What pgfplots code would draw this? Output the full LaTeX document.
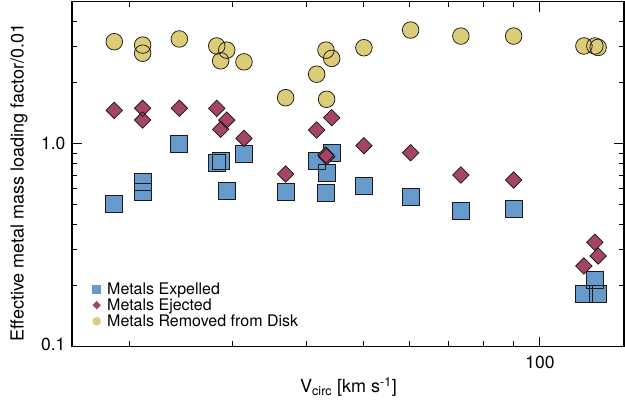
\documentclass[border=0pt]{standalone}
\usepackage{fontspec}
\setmainfont{TeX Gyre Heros}
\usepackage{pgfplots}
\usepackage{pgfplotstable}
\pgfplotsset{compat=1.18}
\definecolor{cblue}{HTML}{6699CC}
\definecolor{cred}{HTML}{A44468}
\definecolor{cyel}{HTML}{DDCC77}
\definecolor{edge}{HTML}{1A1A1A}
\pgfplotstableread{
x      expelled ejected removed
18.88  0.508    1.46    3.18
21.10  0.645    1.494   3.06
21.10  0.580    1.308   2.79
24.36  0.997    1.494   3.28
28.20  0.800    1.494   3.03
28.64  0.822    1.177   2.56
29.33  0.587    1.308   2.89
31.38  0.887    1.063   2.53
36.94  0.576    0.709   1.685
41.71  0.825    1.168   2.20
43.26  0.570    0.880   2.89
43.37  0.715    0.863   1.655
44.24  0.903    1.343   2.63
50.19  0.619    0.978   2.97
60.27  0.545    0.903   3.63
73.38  0.468    0.701   3.39
90.22  0.477    0.663   3.39
118.8  0.183    0.2497  3.03
124.0  0.213    0.327   3.03
125.6  0.183    0.280   2.98
}\datatable
\begin{document}
\begin{tikzpicture}
\path[use as bounding box] (0,0) rectangle (625pt,404pt);
\begin{axis}[
  at={(72pt,57.3pt)}, anchor=south west,
  scale only axis, width=552pt, height=344.9pt,
  xmode=log, ymode=log,
  xmin=16, xmax=139, ymin=0.1, ymax=5,
  xtick={100}, xticklabels={100},
  ytick={0.1,1}, yticklabels={\raisebox{4pt}{0.1},1.0},
  minor xtick={20,30,40,50,60,70,80,90},
  minor ytick={0.2,0.3,0.4,0.5,0.6,0.7,0.8,0.9,2,3,4},
  major tick length=10pt, minor tick length=5.5pt,
  tick style={black, line width=0.9pt},
  axis line style={line width=1.3pt},
  /pgf/number format/assume math mode=true,
  ticklabel style={font=\fontsize{17.5}{20}\selectfont},
  xticklabel style={yshift=-6pt},
  yticklabel style={xshift=-3pt},
  xlabel={V\textsubscript{circ} [km s\textsuperscript{-1}]},
  ylabel={Effective metal mass loading factor/0.01},
  label style={font=\fontsize{18}{21}\selectfont},
  xlabel style={at={(axis description cs:0.501,-0.134)}, anchor=base},
  ylabel style={at={(axis description cs:-0.096,0.476)}, anchor=center},
  legend image code/.code={\path[#1] plot coordinates {(0pt,0pt)};},
  legend style={at={(axis description cs:0.0362,0.1905)}, anchor=north west,
    draw=none, fill=none, inner sep=0pt, column sep=3pt, row sep=0pt,
    font=\fontsize{16}{19}\selectfont,
    nodes={text height=13pt, text depth=3pt, inner ysep=0pt, inner xsep=3pt}},
  legend cell align=left,
]
% Expelled (squares)
\addplot[forget plot, only marks, mark=square*, mark size=8.5pt,
  mark options={fill=cblue, draw opacity=0}] table[x=x, y=expelled] {\datatable};
\addplot[forget plot, only marks, mark=square, mark size=8.5pt,
  mark options={draw=edge, line width=0.75pt}] table[x=x, y=expelled] {\datatable};
% Ejected (diamonds)
\addplot[forget plot, only marks, mark=square*, mark size=5.8pt,
  mark options={fill=cred, draw opacity=0, rotate=45}] table[x=x, y=ejected] {\datatable};
\addplot[forget plot, only marks, mark=square, mark size=5.8pt,
  mark options={draw=edge, line width=0.75pt, rotate=45}] table[x=x, y=ejected] {\datatable};
% Removed (circles)
\addplot[forget plot, only marks, mark=*, mark size=8.3pt,
  mark options={fill=cyel, draw opacity=0}] table[x=x, y=removed] {\datatable};
\addplot[forget plot, only marks, mark=o, mark size=8.3pt,
  mark options={draw=edge, line width=0.75pt}] table[x=x, y=removed] {\datatable};
\addlegendimage{draw=none, mark=square*, mark size=4.5pt, mark options={fill=cblue, draw opacity=0}}
\addlegendentry{Metals Expelled}
\addlegendimage{draw=none, mark=square*, mark size=3pt, mark options={fill=cred, draw opacity=0, rotate=45}}
\addlegendentry{Metals Ejected}
\addlegendimage{draw=none, mark=*, mark size=4.3pt, mark options={fill=cyel, draw opacity=0}}
\addlegendentry{Metals Removed from Disk}
\end{axis}
\end{tikzpicture}
\end{document}
